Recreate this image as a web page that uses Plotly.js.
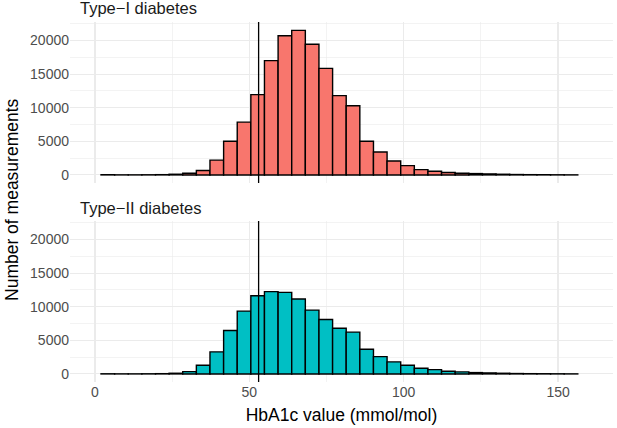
<!DOCTYPE html>
<html><head><meta charset="utf-8">
<script src="https://cdn.plot.ly/plotly-3.0.1.min.js"></script>
<style>html,body{margin:0;padding:0;background:#fff}#chart{width:617px;height:428px}</style>
</head><body><div id="chart"></div>
<script>
// HbA1c bin centres (mmol/mol)
const binCenters = [4.15, 8.56, 12.97, 17.39, 21.80, 26.21, 30.63, 35.04, 39.45, 43.87,
  48.28, 52.69, 57.10, 61.52, 65.93, 70.34, 74.76, 79.17, 83.58, 88.00,
  92.41, 96.82, 101.24, 105.65, 110.06, 114.47, 118.89, 123.30, 127.71, 132.13,
  136.54, 140.95, 145.37, 149.78, 154.19];
// Number of measurements per bin
const typeICounts = [30, 10, 10, 20, 40, 100, 250, 650, 2200, 5000,
  7850, 11950, 17000, 20700, 21500, 19450, 15850, 11800, 10300, 5000,
  3400, 2080, 1380, 790, 540, 350, 250, 200, 150, 100,
  60, 40, 30, 20, 10];
const typeIICounts = [20, 10, 10, 20, 40, 100, 350, 1300, 3280, 6470,
  9350, 11630, 12250, 12130, 11140, 9500, 8100, 6800, 6220, 3680,
  2580, 1790, 1290, 840, 640, 400, 300, 200, 150, 100,
  60, 40, 30, 20, 10];
const panelTitles = ['Type\u2212I diabetes', 'Type\u2212II diabetes'];
const xTitle = 'HbA1c value (mmol/mol)';
const yTitle = 'Number of measurements';
const targetHbA1c = 53;
const binWidth = 4.413;

const FONT = 'Liberation Sans, Arial, sans-serif';
const barLine = {color: '#000000', width: 1.4};

const traces = [
  {type: 'bar', x: binCenters, y: typeICounts, width: binWidth, xaxis: 'x2', yaxis: 'y2',
   marker: {color: '#F8766D', line: barLine}, hoverinfo: 'skip'},
  {type: 'bar', x: binCenters, y: typeIICounts, width: binWidth, xaxis: 'x', yaxis: 'y',
   marker: {color: '#00BFC4', line: barLine}, hoverinfo: 'skip'}
];

const xRange = [-8.1, 167.8];
const yRange = [-1200, 22750];
const grid = {showgrid: true, gridcolor: '#EBEBEB', gridwidth: 1.1, zeroline: false,
  showline: false, ticks: '', tickfont: {family: FONT, size: 14, color: '#4D4D4D'}};
const minorGrid = {showgrid: true, gridcolor: '#EBEBEB', gridwidth: 0.6, ticks: ''};

const layout = {
  width: 617, height: 428,
  margin: {l: 70, r: 4, t: 22, b: 46},
  paper_bgcolor: '#ffffff', plot_bgcolor: '#ffffff',
  showlegend: false, bargap: 0, hovermode: false,
  font: {family: FONT, color: '#000000'},
  xaxis: Object.assign({}, grid, {domain: [0, 1], anchor: 'y', range: xRange,
    tickmode: 'linear', tick0: 0, dtick: 50, minor: Object.assign({dtick: 25}, minorGrid),
    title: {text: xTitle, font: {family: FONT, size: 17.5, color: '#000000'}, standoff: 9}}),
  xaxis2: Object.assign({}, grid, {domain: [0, 1], anchor: 'y2', range: xRange, matches: 'x',
    tickmode: 'linear', tick0: 0, dtick: 50, showticklabels: false,
    minor: Object.assign({dtick: 25}, minorGrid)}),
  yaxis: Object.assign({}, grid, {domain: [0, 0.4472], anchor: 'x', range: yRange,
    tickmode: 'linear', tick0: 0, dtick: 5000, tickformat: 'd',
    minor: Object.assign({dtick: 2500}, minorGrid)}),
  yaxis2: Object.assign({}, grid, {domain: [0.5528, 1], anchor: 'x2', range: yRange,
    tickmode: 'linear', tick0: 0, dtick: 5000, tickformat: 'd',
    minor: Object.assign({dtick: 2500}, minorGrid)}),
  shapes: [
    {type: 'line', xref: 'x2', yref: 'y2 domain', x0: targetHbA1c, x1: targetHbA1c, y0: 0, y1: 1,
     line: {color: '#000000', width: 1.3}},
    {type: 'line', xref: 'x', yref: 'y domain', x0: targetHbA1c, x1: targetHbA1c, y0: 0, y1: 1,
     line: {color: '#000000', width: 1.3}}
  ],
  annotations: [
    {text: panelTitles[0], xref: 'paper', yref: 'paper', x: 0.0147, y: 1.0389,
     xanchor: 'left', yanchor: 'middle', showarrow: false,
     font: {family: FONT, size: 16.5, color: '#1A1A1A'}},
    {text: panelTitles[1], xref: 'paper', yref: 'paper', x: 0.0147, y: 0.4842,
     xanchor: 'left', yanchor: 'middle', showarrow: false,
     font: {family: FONT, size: 16.5, color: '#1A1A1A'}},
    {text: yTitle, xref: 'paper', yref: 'paper', x: -0.1068, y: 0.5056,
     xanchor: 'center', yanchor: 'middle', textangle: -90, showarrow: false,
     font: {family: FONT, size: 17.5, color: '#000000'}}
  ]
};

Plotly.newPlot('chart', traces, layout, {staticPlot: true, displayModeBar: false});
</script>
</body></html>
